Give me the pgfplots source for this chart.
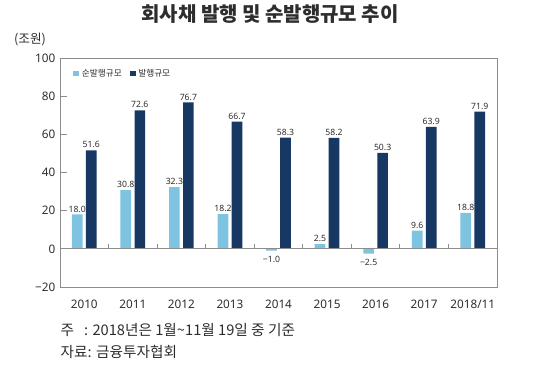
\documentclass[border=0pt]{standalone}
\usepackage{fontspec}
\setmainfont{Noto Sans CJK KR}
\newfontfamily\numfont{Noto Sans}
\usepackage{pgfplots}
\usepackage{pgfplotstable}
\pgfplotsset{compat=1.18}
\definecolor{lb}{RGB}{126,195,224}
\definecolor{db}{RGB}{22,56,98}
\definecolor{txt}{RGB}{45,45,45}
\definecolor{frm}{RGB}{140,140,140}

\pgfplotstableread{
x y lab
0 18.0 18.0
1 30.8 30.8
2 32.3 32.3
3 18.2 18.2
5 2.5 2.5
7 9.6 9.6
8 18.8 18.8
}\netpos

\pgfplotstableread{
x y lab
4 -1.0 −1.0
6 -2.5 −2.5
}\netneg

\pgfplotstableread{
x y lab
0 51.6 51.6
1 72.6 72.6
2 76.7 76.7
3 66.7 66.7
4 58.3 58.3
5 58.2 58.2
6 50.3 50.3
7 63.9 63.9
8 71.9 71.9
}\gross

\begin{document}
\begin{tikzpicture}
\useasboundingbox (0pt,0pt) rectangle (405pt,289.5pt);
\node[font=\fontsize{15}{18}\selectfont\bfseries, text=txt] at (202.5pt,279pt) {회사채 발행 및 순발행규모 추이};
\node[font=\fontsize{9.5}{11}\selectfont, text=txt] at (22.5pt,259.5pt) {(조원)};
\begin{axis}[
  at={(45pt,74.25pt)}, anchor=south west,
  scale only axis, width=327.75pt, height=171.75pt,
  xmin=-0.5, xmax=8.5, ymin=-20, ymax=100,
  ytick={-20,0,20,40,60,80,100},
  yticklabels={\mbox{−20},\mbox{0},\mbox{20},\mbox{40},\mbox{60},\mbox{80},\mbox{100}},
  xtick={0,1,2,3,4,5,6,7,8},
  xticklabels={\mbox{2010},\mbox{2011},\mbox{2012},\mbox{2013},\mbox{2014},\mbox{2015},\mbox{2016},\mbox{2017},\mbox{2018/11}},
  axis line style={frm, line width=0.6pt},
  ytick pos=left, tick align=inside, major tick length=5pt,
  ytick style={frm, line width=0.6pt},
  xtick style={draw=none},
  ticklabel style={text=txt, font=\numfont\fontsize{8.8}{10}\selectfont},
  xticklabel style={yshift=-1.25pt},
  ybar, bar width=8pt,
  nodes near coords, point meta=explicit symbolic,
  every node near coord/.append style={font=\numfont\fontsize{6.5}{7}\selectfont, text=txt, inner sep=1.5pt},
  legend style={at={(0.03,0.965)}, anchor=north west, draw=none, fill=none,
    font=\fontsize{6.5}{7}\selectfont, text=txt, legend columns=2, inner sep=0pt,
    /tikz/every even column/.append style={column sep=4pt}},
  legend cell align=left,
]
\addplot[fill=lb, draw=none, bar shift=-5.25pt, legend image code/.code={\fill[lb] (0pt,-2.2pt) rectangle (4.4pt,2.2pt);}] table[x=x,y=y,meta=lab] {\netpos};
\addlegendentry{순발행규모}
\addplot[fill=db, draw=none, bar shift=5.25pt, legend image code/.code={\fill[db] (0pt,-2.2pt) rectangle (4.4pt,2.2pt);}] table[x=x,y=y,meta=lab] {\gross};
\addlegendentry{발행규모}
\addplot[fill=lb, draw=none, bar shift=-5.25pt, forget plot,
  every node near coord/.append style={anchor=north, yshift=-2.5pt}] table[x=x,y=y,meta=lab] {\netneg};
\draw[frm, line width=0.6pt] (axis cs:-0.5,0) -- (axis cs:8.5,0);
\pgfplotsinvokeforeach{0.5,1.5,2.5,3.5,4.5,5.5,6.5,7.5}{
  \draw[frm, line width=0.6pt] (axis cs:#1,0) -- (axis cs:#1,2.6);
}
\end{axis}
\node[anchor=west, font=\fontsize{11}{12}\selectfont, text=txt] at (42pt,42pt) {주\ \ \ : 2018년은 1월\textasciitilde11월 19일 중 기준};
\node[anchor=west, font=\fontsize{11}{12}\selectfont, text=txt] at (42pt,25.5pt) {자료: 금융투자협회};
\end{tikzpicture}
\end{document}
